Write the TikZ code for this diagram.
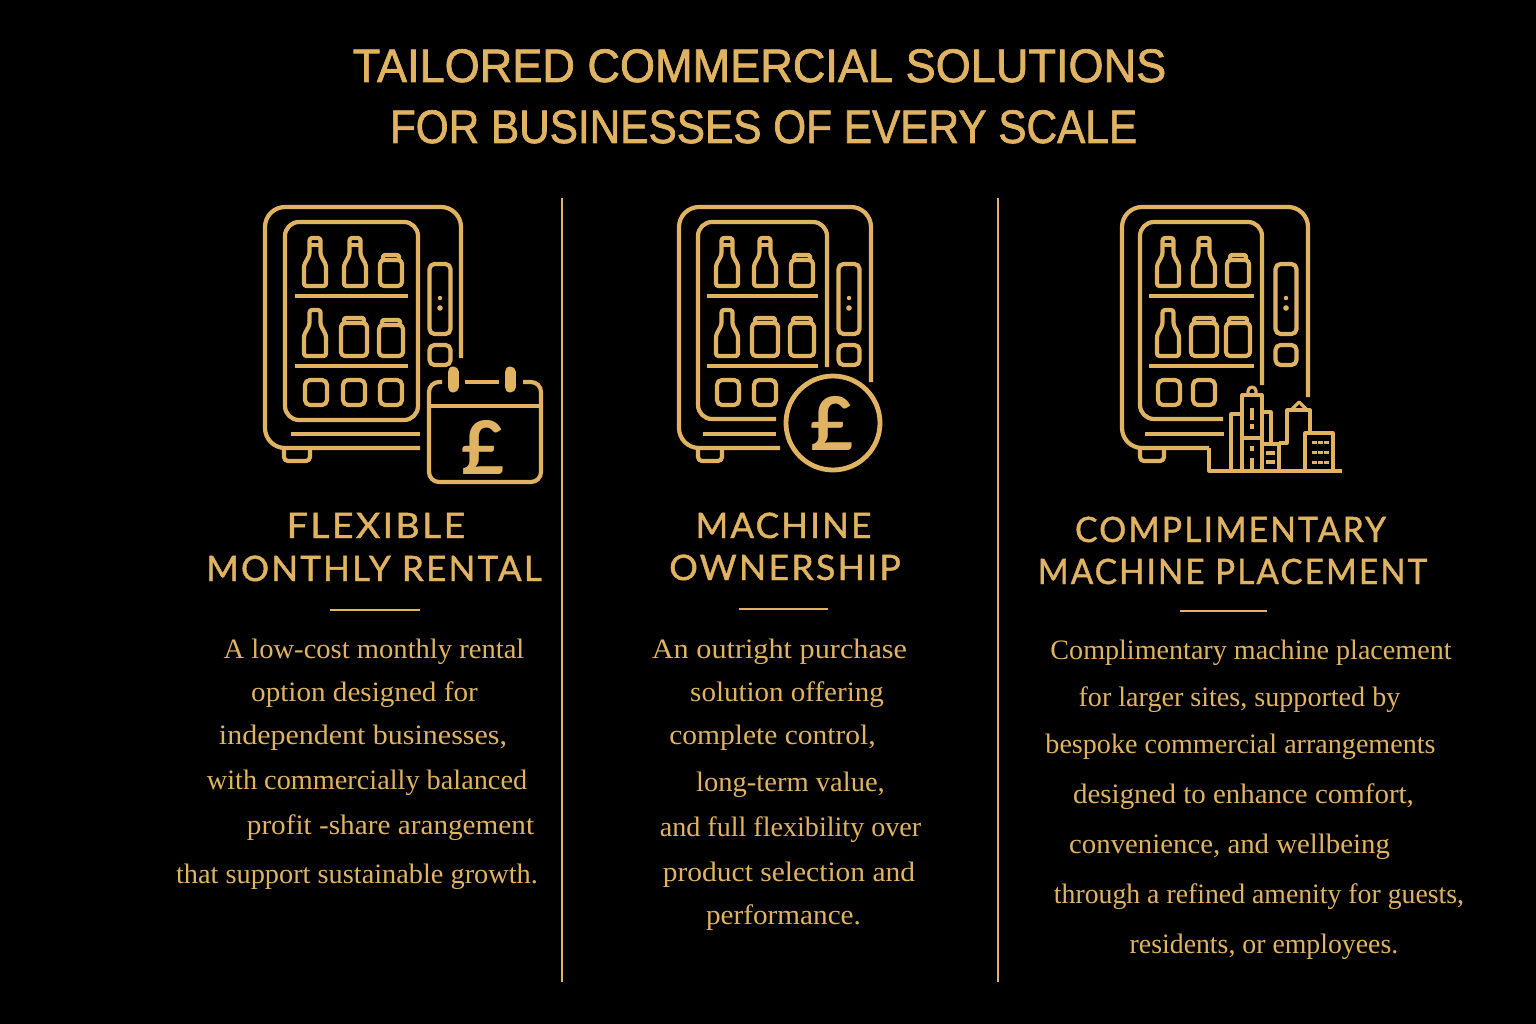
\documentclass[tikz,border=0pt]{standalone}
\usepackage{fontspec}
\setmainfont{Liberation Serif}
\newfontfamily\titlefont[FakeStretch=0.95,FakeBold=1.5]{Liberation Sans}
\newfontfamily\headfont[LetterSpace=6.3,FakeBold=1.2]{Lato}
\newfontfamily\poundfont{Lato}
\definecolor{goldline}{HTML}{E0B362}
\tikzset{
  iconline/.style={draw=goldline,line width=4.2pt,line join=round},
  cityline/.style={draw=goldline,line width=3.2pt,line join=round},
  divider/.style={draw=goldline,line width=2.8pt},
  squeeze/.style={xscale=#1,transform shape},
  titletext/.style={anchor=base,inner sep=0pt,text=goldline,font=\titlefont\fontsize{47}{47}\selectfont},
  headtext/.style={anchor=base,inner sep=0pt,text=goldline,font=\headfont\fontsize{35}{35}\selectfont},
  bodytext/.style={anchor=base,inner sep=0pt,yshift=-1pt,text=goldline,font=\fontsize{28.1}{28.1}\selectfont},
  poundtext/.style={inner sep=0pt,text=goldline,font=\poundfont\bfseries\fontsize{74}{74}\selectfont},
}
% #1 centre, #2 top, #3 bottom
\newcommand{\bottleicon}[3]{
  \draw[iconline,rounded corners=2.5pt] (#1-11,#3) -- (#1-11,#3-21) -- (#1-5.5,#3-31) -- (#1-5.5,#2) --
        (#1+5.5,#2) -- (#1+5.5,#3-31) -- (#1+11,#3-21) -- (#1+11,#3) -- cycle;
}
\newcommand{\jaricon}[4]{
  \draw[iconline,rounded corners=4pt] (#1-#4,#3) rectangle (#1+#4,#2+5);
  \draw[iconline,rounded corners=2pt] (#1-#4+3,#2+5) -- (#1-#4+3,#2) -- (#1+#4-3,#2) -- (#1+#4-3,#2+5);
}
\newcommand{\slotbox}[1]{
  \draw[iconline,rounded corners=5pt] (#1-11,380) rectangle (#1+11,405);
}
\newcommand{\shelfpair}[2]{
  \draw[iconline] (#1,296) -- (#2,296);
  \draw[iconline] (#1,366) -- (#2,366);
}
\newcommand{\sidepanel}[1]{
  \draw[iconline,rounded corners=5pt] (#1-10.5,264) rectangle (#1+10.5,334);
  \draw[iconline,rounded corners=5pt] (#1-10.5,345) rectangle (#1+10.5,365);
  \fill[goldline] (#1,298) circle (2.2pt);
  \fill[goldline] (#1,308) circle (2.8pt);
}
\begin{document}
\begin{tikzpicture}[x=1pt,y=-1pt]
  \fill[black] (0,0) rectangle (1536,1024);

  \node[titletext,squeeze=1.01] (title1) at (759.5,82) {TAILORED COMMERCIAL SOLUTIONS};
  \node[titletext,squeeze=.948] (title2) at (763.5,143) {FOR BUSINESSES OF EVERY SCALE};

  \draw[divider] (562,198) -- (562,982);
  \draw[divider] (998,198) -- (998,982);

  % rental machine
  \begin{scope}
    \draw[iconline,rounded corners=20pt] (461,358) -- (461,207) -- (265,207) -- (265,448) -- (420,448);
    \draw[iconline,rounded corners=14pt] (285,222) rectangle (418,420);
    \draw[iconline] (291,434) -- (420,434);
    \draw[iconline,rounded corners=4pt] (284,449) -- (284,461) -- (310,461) -- (310,449);
    \shelfpair{295}{408}
    \foreach \cx in {315,355} {
      \bottleicon{\cx}{238}{286}
      \draw[iconline] (\cx-5.5,245) -- (\cx+5.5,245);
    }
    \jaricon{391}{255}{286}{11}
    \bottleicon{315}{310}{356}
    \jaricon{354}{318}{356}{13}
    \jaricon{391}{320}{356}{12}
    \foreach \cx in {316,354,391} {\slotbox{\cx}}
    \sidepanel{440}
    % calendar
    \draw[iconline,rounded corners=10pt] (442,382) -- (429,382) -- (429,482) -- (541,482) -- (541,382) -- (523,382);
    \draw[iconline] (429,406) -- (541,406);
    \draw[iconline] (465,382) -- (499,382);
    \draw[goldline,line width=11pt,line cap=round] (453,372) -- (453,387);
    \draw[goldline,line width=11pt,line cap=round] (510,372) -- (510,387);
    \node[poundtext] (pound1) at (483,447) {£};
  \end{scope}

  % ownership machine
  \begin{scope}
    \draw[iconline,rounded corners=20pt] (871,382) -- (871,207) -- (679,207) -- (679,448) -- (780,448);
    \draw[iconline,rounded corners=14pt] (827,367) -- (827,222) -- (698,222) -- (698,419) -- (776,419);
    \draw[iconline] (703,434) -- (776,434);
    \draw[iconline,rounded corners=4pt] (698,449) -- (698,461) -- (722,461) -- (722,449);
    \shelfpair{707}{818}
    \foreach \cx in {727,765} {
      \bottleicon{\cx}{238}{286}
      \draw[iconline] (\cx-5.5,245) -- (\cx+5.5,245);
    }
    \jaricon{802}{255}{286}{11}
    \bottleicon{727}{310}{356}
    \jaricon{765}{318}{356}{13}
    \jaricon{802}{318}{356}{12}
    \foreach \cx in {728,765} {\slotbox{\cx}}
    \sidepanel{849}
    \draw[goldline,line width=4.8pt] (833,423) circle (47pt);
    \node[poundtext] (pound2) at (832,423) {£};
  \end{scope}

  % placement machine
  \begin{scope}
    \draw[iconline,rounded corners=20pt] (1308,397) -- (1308,207) -- (1122,207) -- (1122,448) -- (1209,448);
    \draw[cityline] (1209,448) -- (1209,471) -- (1342,471);
    \draw[iconline,rounded corners=14pt] (1262,385) -- (1262,222) -- (1140,222) -- (1140,419) -- (1223,419);
    \draw[iconline] (1145,434) -- (1224,434);
    \draw[iconline,rounded corners=4pt] (1140,449) -- (1140,461) -- (1164,461) -- (1164,449);
    \shelfpair{1149}{1254}
    \foreach \cx in {1168,1204} {
      \bottleicon{\cx}{238}{286}
      \draw[iconline] (\cx-5.5,245) -- (\cx+5.5,245);
    }
    \jaricon{1238}{255}{286}{11}
    \bottleicon{1168}{310}{356}
    \jaricon{1204}{318}{356}{13}
    \jaricon{1238}{318}{356}{12}
    \foreach \cx in {1169,1204} {\slotbox{\cx}}
    \sidepanel{1286}
    % city
    \draw[cityline] (1242,471) -- (1242,395) -- (1262,395) -- (1262,471);
    \draw[cityline] (1242,438) -- (1262,438);
    \draw[cityline] (1248,395) -- (1248,391) arc (180:0:4pt) -- (1256,395);
    \draw[cityline] (1231,471) -- (1231,414) -- (1242,414);
    \draw[cityline] (1262,412) -- (1271,412) -- (1271,443);
    \draw[cityline] (1262,444) -- (1279,444) -- (1279,471);
    \draw[cityline] (1266,453) -- (1275,453);
    \draw[cityline] (1266,462) -- (1275,462);
    \draw[cityline] (1279,443) -- (1287,443) -- (1287,410) -- (1310,410) -- (1310,433);
    \draw[cityline] (1291,410) -- (1299,402) -- (1307,410);
    \draw[cityline] (1305,471) -- (1305,433) -- (1333,433) -- (1333,471);
    \draw[cityline] (1252,408) -- (1252,420);
    \draw[cityline] (1252,424) -- (1252,429);
    \draw[cityline] (1252,446) -- (1252,451);
    \draw[cityline] (1252,458) -- (1252,471);
    \foreach \wy in {442,452,462} {
      \foreach \wx in {1314,1320,1326} {
        \draw[goldline,line width=3pt] (\wx-2.5,\wy) -- (\wx+2.5,\wy);
      }
    }
  \end{scope}

  % headings
  \node[headtext,squeeze=1.07] (head1a) at (376,538) {FLEXIBLE};
  \node[headtext] (head1b) at (374,581) {MONTHLY RENTAL};
  \node[headtext] (head2a) at (783.5,538) {MACHINE};
  \node[headtext,squeeze=1.02] (head2b) at (785,580) {OWNERSHIP};
  \node[headtext,squeeze=.963] (head3a) at (1230.5,542) {COMPLIMENTARY};
  \node[headtext,squeeze=.949] (head3b) at (1232.5,584) {MACHINE PLACEMENT};

  \draw[divider] (330,610) -- (420,610);
  \draw[divider] (739,609) -- (828,609);
  \draw[divider] (1180,611) -- (1267,611);

  % first column
  \node[bodytext,squeeze=1.017] (one1) at (374,657) {A low-cost monthly rental};
  \node[bodytext,squeeze=1.037] (one2) at (364.5,700) {option designed for};
  \node[bodytext,squeeze=1.067] (one3) at (363,743) {independent businesses,};
  \node[bodytext,squeeze=1.006] (one4) at (367,788) {with commercially balanced};
  \node[bodytext,squeeze=1.04] (one5) at (390.5,833) {profit -share arangement};
  \node[bodytext,squeeze=1.008] (one6) at (357,882) {that support sustainable growth.};

  % second column
  \node[bodytext,squeeze=1.076] (two1) at (779.5,657) {An outright purchase};
  \node[bodytext,squeeze=1.032] (two2) at (787,700) {solution offering};
  \node[bodytext,squeeze=1.05] (two3) at (772.5,743) {complete control,};
  \node[bodytext,squeeze=1.016] (two4) at (790.5,790) {long-term value,};
  \node[bodytext] (two5) at (790.5,835) {and full flexibility over};
  \node[bodytext,squeeze=1.05] (two6) at (789,880) {product selection and};
  \node[bodytext,squeeze=1.04] (two7) at (783.5,923) {performance.};

  % third column
  \node[bodytext] (three1) at (1251,658) {Complimentary machine placement};
  \node[bodytext] (three2) at (1239.5,705) {for larger sites, supported by};
  \node[bodytext] (three3) at (1240.5,752) {bespoke commercial arrangements};
  \node[bodytext,squeeze=1.03] (three4) at (1243.5,802) {designed to enhance comfort,};
  \node[bodytext,squeeze=1.025] (three5) at (1229.5,852) {convenience, and wellbeing};
  \node[bodytext,squeeze=.988] (three6) at (1259,902) {through a refined amenity for guests,};
  \node[bodytext,squeeze=.989] (three7) at (1264,952) {residents, or employees.};
\end{tikzpicture}
\end{document}
